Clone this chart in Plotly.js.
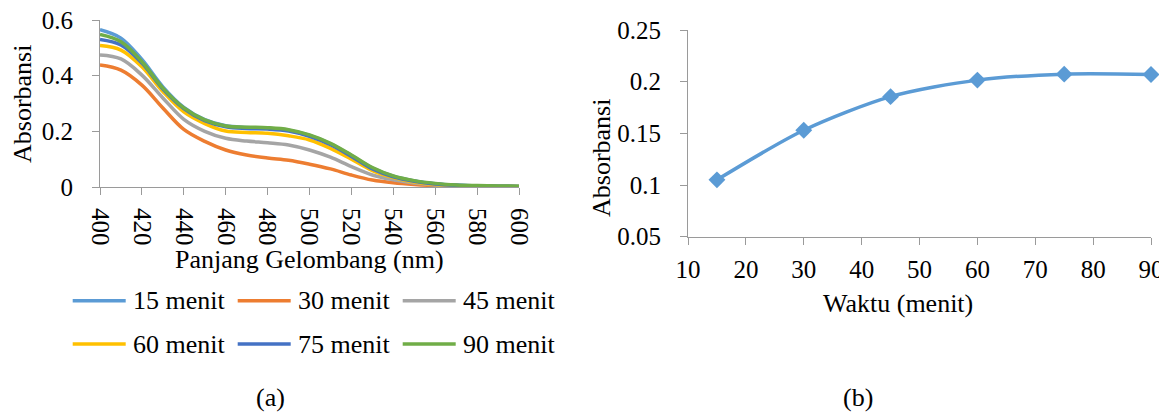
<!DOCTYPE html>
<html>
<head>
<meta charset="utf-8">
<script src="https://cdn.plot.ly/plotly-3.0.1.min.js"></script>
<style>html,body{margin:0;padding:0;background:#fff;}#chart{width:1159px;height:414px;}</style>
</head>
<body>
<div id="chart"></div>
<script>
// ---------- data (a) ----------
const wavelength = [400,410,420,430,440,450,460,470,480,490,500,510,520,530,540,550,560,570,580,590,600];
const abs15 = [0.565,0.535,0.458,0.360,0.286,0.242,0.220,0.214,0.211,0.204,0.185,0.155,0.113,0.068,0.039,0.022,0.012,0.007,0.004,0.003,0.002];
const abs30 = [0.438,0.420,0.366,0.284,0.207,0.164,0.133,0.115,0.104,0.096,0.082,0.065,0.043,0.025,0.015,0.009,0.005,0.003,0.002,0.001,0.001];
const abs45 = [0.474,0.460,0.402,0.320,0.243,0.200,0.175,0.165,0.159,0.151,0.133,0.107,0.073,0.043,0.026,0.014,0.007,0.004,0.003,0.002,0.001];
const abs60 = [0.508,0.492,0.432,0.343,0.270,0.228,0.201,0.196,0.193,0.184,0.169,0.139,0.100,0.059,0.034,0.018,0.009,0.005,0.003,0.002,0.002];
const abs75 = [0.530,0.510,0.445,0.352,0.282,0.238,0.216,0.210,0.208,0.201,0.182,0.152,0.110,0.065,0.037,0.021,0.011,0.006,0.004,0.003,0.002];
const abs90 = [0.548,0.522,0.450,0.355,0.284,0.241,0.219,0.215,0.213,0.206,0.187,0.157,0.115,0.070,0.040,0.023,0.013,0.007,0.005,0.004,0.003];
const seriesNames = ['15 menit','30 menit','45 menit','60 menit','75 menit','90 menit'];
const xTicksA = [400,420,440,460,480,500,520,540,560,580,600];
const yTicksA = [0,0.2,0.4,0.6];

// ---------- data (b) ----------
const waktu = [15,30,45,60,75,90];
const absWaktu = [0.105,0.153,0.1855,0.2015,0.2073,0.207];
const xTicksB = [10,20,30,40,50,60,70,80,90];
const yTicksB = [0.05,0.1,0.15,0.2,0.25];

// ---------- layout helpers ----------
const W = 1159, H = 414;
const px = v => v / W;
const py = v => 1 - v / H;
const FONT = '"Liberation Serif", "Times New Roman", Times, serif';
const colors = ['#5B9BD5','#ED7D31','#A5A5A5','#FFC000','#4472C4','#70AD47'];
const seriesA = [abs15, abs30, abs45, abs60, abs75, abs90];

const traces = seriesA.map((ys, i) => ({
  x: wavelength, y: ys, name: seriesNames[i], type: 'scatter', mode: 'lines',
  line: {color: colors[i], width: 3.5, shape: 'spline', smoothing: 1},
  xaxis: 'x', yaxis: 'y', showlegend: false, hoverinfo: 'skip'
}));
traces.push({
  x: waktu, y: absWaktu, type: 'scatter', mode: 'lines+markers',
  line: {color: '#5B9BD5', width: 3.5, shape: 'spline', smoothing: 0.8},
  marker: {symbol: 'diamond', size: 13, color: '#5B9BD5'},
  xaxis: 'x2', yaxis: 'y2', showlegend: false, cliponaxis: false, hoverinfo: 'skip'
});

const axisCommon = {
  showline: true, linecolor: '#9A9A9A', linewidth: 1, showgrid: false, zeroline: false,
  ticks: 'outside', ticklen: 7, tickcolor: '#9A9A9A', tickwidth: 1,
  tickfont: {family: FONT, size: 25, color: '#000'}, fixedrange: true,
  ticklabeloverflow: 'allow'
};

// custom legend (built from series names)
const shapes = [], annotations = [];
const colX = [72.7, 237.7, 402.7], rowY = [300.7, 344];
seriesNames.forEach((nm, i) => {
  const c = i % 3, r = Math.floor(i / 3);
  shapes.push({type: 'line', xref: 'paper', yref: 'paper',
    x0: px(colX[c]), x1: px(colX[c] + 53), y0: py(rowY[r]), y1: py(rowY[r]),
    line: {color: colors[i], width: 3.5}});
  annotations.push({xref: 'paper', yref: 'paper', x: px(colX[c] + 58), y: py(rowY[r]),
    xanchor: 'left', yanchor: 'middle', showarrow: false, text: nm,
    font: {family: FONT, size: 26, color: '#000'}});
});
const titleFont = {family: FONT, size: 26, color: '#000'};
annotations.push(
  {xref: 'paper', yref: 'paper', x: px(22), y: py(104), textangle: -90, text: 'Absorbansi', showarrow: false, font: titleFont, xanchor: 'center', yanchor: 'middle'},
  {xref: 'paper', yref: 'paper', x: px(309), y: py(259), text: 'Panjang Gelombang (nm)', showarrow: false, font: titleFont, xanchor: 'center', yanchor: 'middle'},
  {xref: 'paper', yref: 'paper', x: px(602), y: py(158), textangle: -90, text: 'Absorbansi', showarrow: false, font: titleFont, xanchor: 'center', yanchor: 'middle'},
  {xref: 'paper', yref: 'paper', x: px(898), y: py(303), text: 'Waktu (menit)', showarrow: false, font: titleFont, xanchor: 'center', yanchor: 'middle'},
  {xref: 'paper', yref: 'paper', x: px(270), y: py(397), text: '(a)', showarrow: false, font: titleFont, xanchor: 'center', yanchor: 'middle'},
  {xref: 'paper', yref: 'paper', x: px(858), y: py(397), text: '(b)', showarrow: false, font: titleFont, xanchor: 'center', yanchor: 'middle'}
);

const layout = {
  width: W, height: H, margin: {l: 0, r: 0, t: 0, b: 0},
  paper_bgcolor: '#fff', plot_bgcolor: '#fff', showlegend: false,
  font: {family: FONT, color: '#000'},
  xaxis: Object.assign({}, axisCommon, {domain: [px(100), px(519)], range: [400, 600],
    tickvals: xTicksA, ticktext: xTicksA.map(String), tickangle: 90, ticklabelstandoff: 8, anchor: 'y'}),
  yaxis: Object.assign({}, axisCommon, {domain: [py(187), py(20)], range: [0, 0.6],
    tickvals: yTicksA, ticktext: yTicksA.map(String), ticklabelstandoff: 14, anchor: 'x'}),
  xaxis2: Object.assign({}, axisCommon, {domain: [px(688), px(1151)], range: [10, 90],
    tickvals: xTicksB, ticktext: xTicksB.map(String), ticklabelstandoff: 3, anchor: 'y2'}),
  yaxis2: Object.assign({}, axisCommon, {domain: [py(236.7), py(30)], range: [0.05, 0.25],
    tickvals: yTicksB, ticktext: yTicksB.map(String), ticklabelstandoff: 14, anchor: 'x2'}),
  shapes: shapes, annotations: annotations
};

Plotly.newPlot('chart', traces, layout, {staticPlot: true, displayModeBar: false});
</script>
</body>
</html>
